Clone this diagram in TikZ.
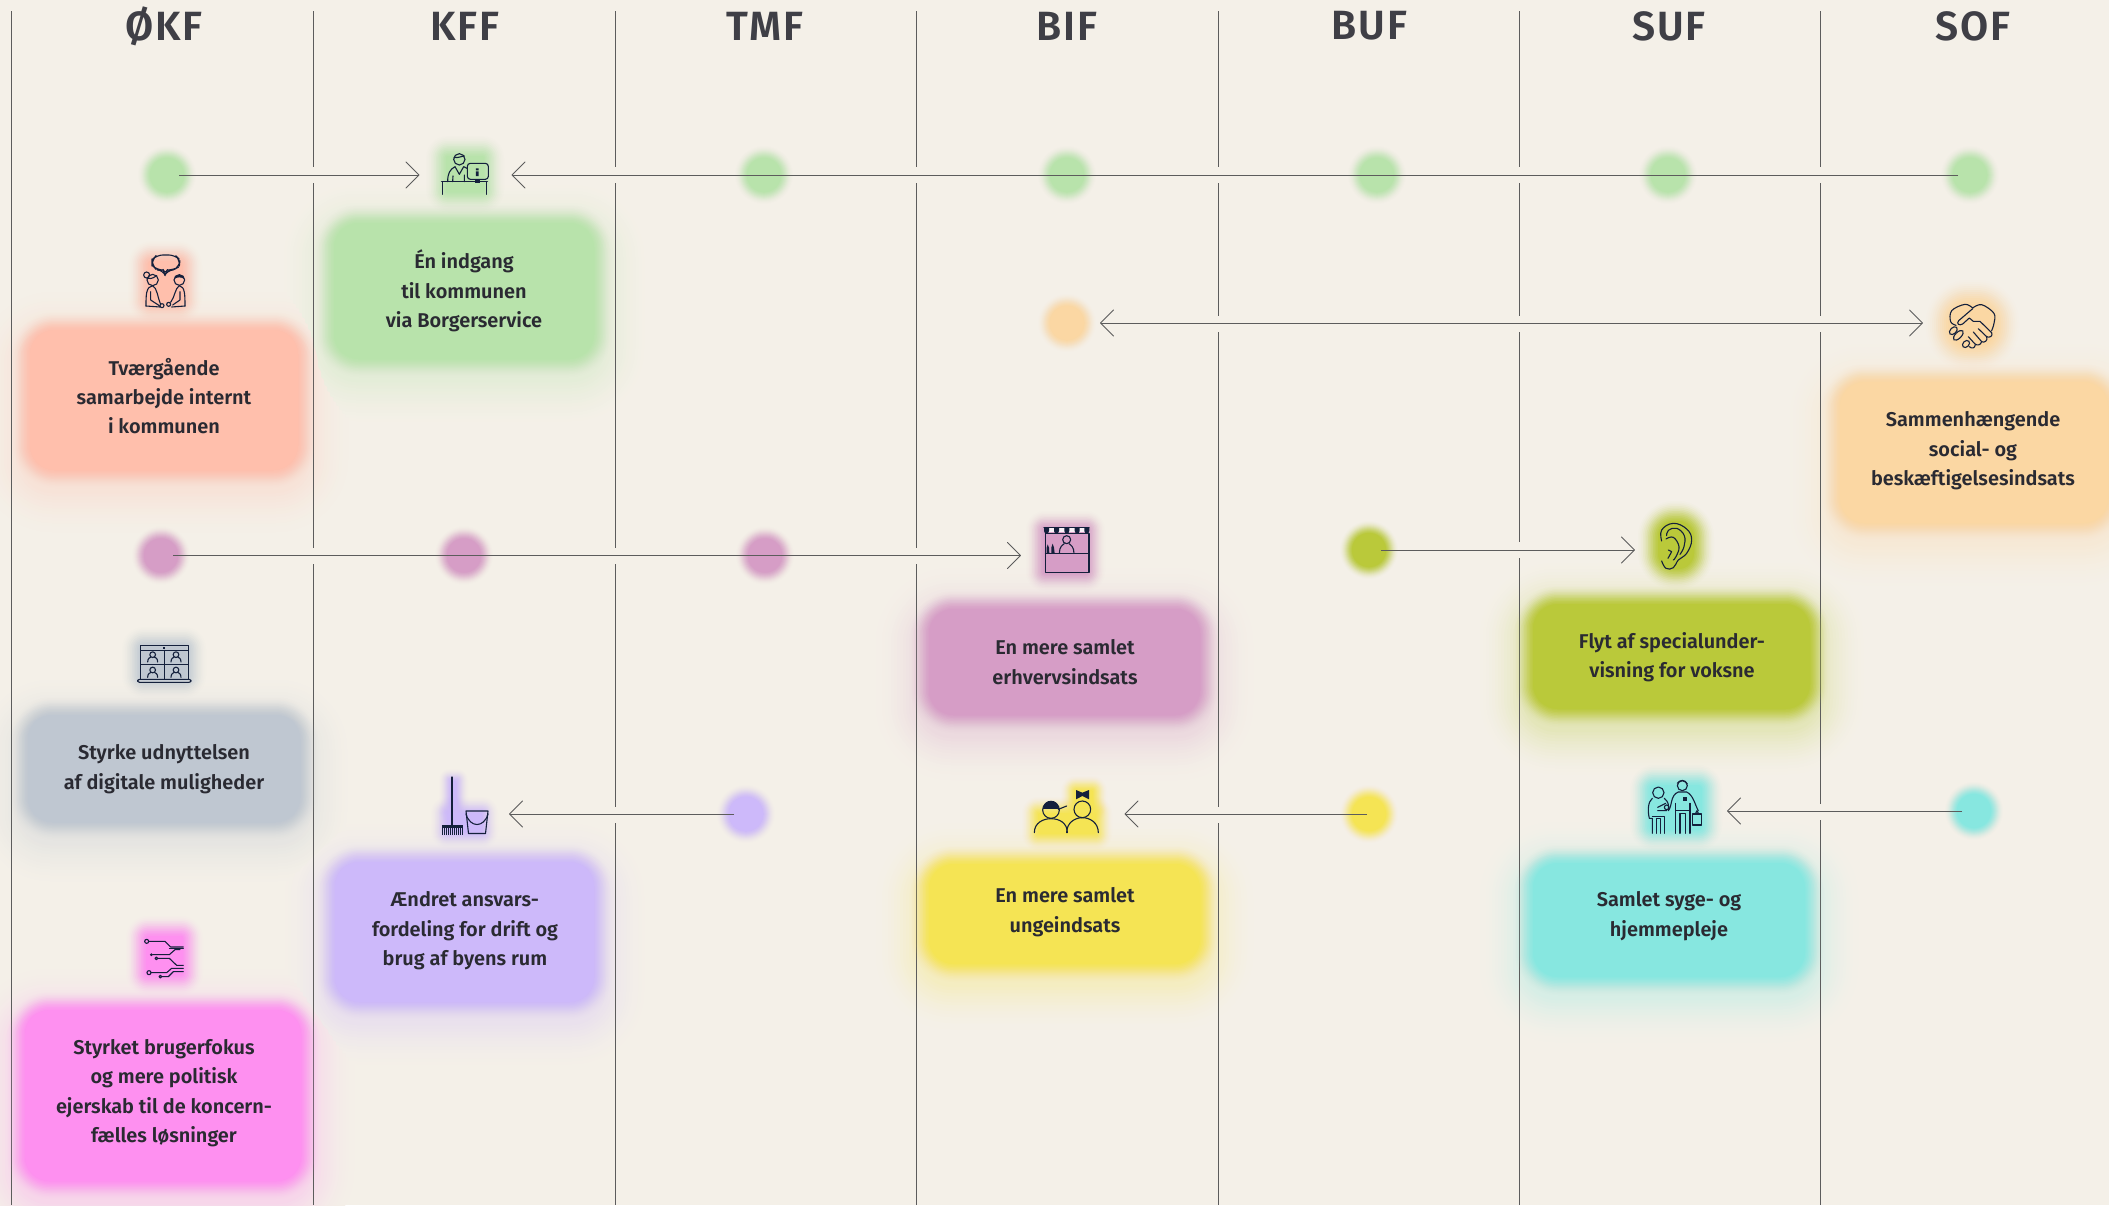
\documentclass[tikz,border=0pt]{standalone}
\usepackage{fontspec}
\setmainfont{Fira Sans}[UprightFont={* SemiBold}]
\newfontfamily\titlefont{Fira Sans}[UprightFont={* SemiBold},LetterSpace=5]
\usetikzlibrary{arrows.meta}
\definecolor{bgc}{HTML}{F4F0E8}
\definecolor{inkc}{HTML}{14203C}
\definecolor{txt}{HTML}{2A2A32}
\definecolor{linec}{HTML}{5C5C5C}
\definecolor{cGreen}{HTML}{B8E3AB}
\definecolor{cSalmon}{HTML}{FFBFAC}
\definecolor{cOrange}{HTML}{FBD7A3}
\definecolor{cMauve}{HTML}{D69DC6}
\definecolor{cOlive}{HTML}{BAC93A}
\definecolor{cGrey}{HTML}{BFC7D1}
\definecolor{cLilac}{HTML}{CDB9FA}
\definecolor{cYellow}{HTML}{F5E454}
\definecolor{cCyan}{HTML}{87E7E0}
\definecolor{cMagenta}{HTML}{FE90F0}
\tikzset{
  hub/.style={rectangle,inner sep=0pt,outer sep=0pt,minimum height=30bp},
  dotn/.style={circle,inner sep=0pt,outer sep=0pt,minimum size=66bp},
  title/.style={font=\titlefont\fontsize{41}{44}\selectfont,text=txt!90!white,inner sep=0pt},
  boxtext/.style={font=\fontsize{20}{29.5}\selectfont,text=txt,align=center,inner sep=0pt},
  vline/.style={draw=linec,line width=1bp},
  link/.style={draw=linec,line width=1bp,shorten <=12bp,-{Straight Barb[length=13bp,width=26bp,line width=.9bp,round]}},
  linkboth/.style={draw=linec,line width=1bp,{Straight Barb[length=13bp,width=26bp,line width=.9bp,round]}-{Straight Barb[length=13bp,width=26bp,line width=.9bp,round]}},
  ink/.style={draw=inkc,line width=1.1bp,line cap=round,line join=round},
  icon/.style={x=.3333bp,y=-.3333bp},
}
% soft rectangle: x0 y0 x1 y1 colour blur radius
\newcommand{\softshape}[7]{%
  \foreach \k/\a in {6/.02,5/.03,4/.05,3/.07,2/.09,1/.12,0/.15,-1/.18,-2/.22,-3/.28,-4/.35,-5/.45,-6/.6}{%
    \pgfmathsetmacro\dd{\k*#6/6}%
    \pgfmathsetmacro\rr{max(2,#7+\dd)}%
    \fill[#5,opacity=\a,rounded corners=\rr bp] ({#1-\dd},{#2-\dd}) rectangle ({#3+\dd},{#4+\dd});
  }%
  \pgfmathsetmacro\rr{max(2,#7-#6)}%
  \fill[#5,rounded corners=\rr bp] ({#1+#6},{#2+#6}) rectangle ({#3-#6},{#4-#6});
}
% one ring of a box's wide faint glow, at distance \d, in an opaque tint of the background
\newcommand{\glowring}[5]{%
  \fill[#5!\pp!bgc,rounded corners=\rr bp] ({#1-\d},{#2-\d+12}) rectangle ({#3+\d},{#4+\d+12});
}
\newcommand{\softbox}[5]{\softshape{#1-2}{#2-2}{#3+2}{#4+2}{#5}{9}{34}}
\newcommand{\softdot}[4]{%
  \foreach \k/\a in {6/.02,5/.03,4/.05,3/.07,2/.09,1/.12,0/.15,-1/.18,-2/.22,-3/.28,-4/.35,-5/.45,-6/.6}{%
    \pgfmathsetmacro\rr{23+\k}%
    \fill[#3,opacity=\a] (#1,#2) circle[radius=\rr];
  }%
  \fill[#3] (#1,#2) circle[radius=17];
  \node[dotn] (#4) at (#1,#2) {};
}
\begin{document}
\begin{tikzpicture}[x=1bp,y=-1bp]
\useasboundingbox (0,0) rectangle (2109,1205);
\fill[bgc] (0,0) rectangle (2109,1205);
% wide glows, ring by ring over all boxes
\foreach \d in {46,43,...,4}{
  \pgfmathsetmacro\rr{30+\d}
  \pgfmathsetmacro\pp{26*((46-\d)/42)^1.6+.6}
  \glowring{327}{216}{601}{366}{cGreen}
  \glowring{23}{323}{305}{477}{cSalmon}
  \glowring{1833}{375}{2115}{530}{cOrange}
  \glowring{922}{602}{1207}{722}{cMauve}
  \glowring{1526}{597}{1817}{716}{cOlive}
  \glowring{21}{708}{307}{829}{cGrey}
  \glowring{328}{855}{601}{1009}{cLilac}
  \glowring{922}{857}{1207}{971}{cYellow}
  \glowring{1526}{856}{1812}{984}{cCyan}
  \glowring{18}{1003}{308}{1188}{cMagenta}
}
% column rules with gaps where connectors cross
\draw[vline] (11.5,11) -- (11.5,1205);
\draw[vline] (313.5,11) -- (313.5,167) (313.5,183) -- (313.5,548) (313.5,564) -- (313.5,1205);
\draw[vline] (615,11) -- (615,167) (615,183) -- (615,548) (615,564) -- (615,807) (615,823) -- (615,1205);
\draw[vline] (916.5,11) -- (916.5,167) (916.5,183) -- (916.5,548) (916.5,564) -- (916.5,1205);
\draw[vline] (1218,11) -- (1218,167) (1218,183) -- (1218,316) (1218,332) -- (1218,807) (1218,823) -- (1218,1205);
\draw[vline] (1519,11) -- (1519,167) (1519,183) -- (1519,316) (1519,332) -- (1519,542) (1519,558) -- (1519,1205);
\draw[vline] (1820.5,11) -- (1820.5,167) (1820.5,183) -- (1820.5,316) (1820.5,332) -- (1820.5,804) (1820.5,820) -- (1820.5,1205);
% titles
\node[title] (tOKF) at (164,26) {ØKF};
\node[title] (tKFF) at (465,26) {KFF};
\node[title] (tTMF) at (765,26) {TMF};
\node[title] (tBIF) at (1067,26) {BIF};
\node[title] (tBUF) at (1369,26) {BUF};
\node[title] (tSUF) at (1669,26) {SUF};
\node[title] (tSOF) at (1973,26) {SOF};
% boxes
\softbox{327}{216}{601}{366}{cGreen}
\softbox{23}{323}{305}{477}{cSalmon}
\softbox{1833}{375}{2115}{530}{cOrange}
\softbox{922}{602}{1207}{722}{cMauve}
\softbox{1526}{597}{1817}{716}{cOlive}
\softbox{21}{708}{307}{829}{cGrey}
\softbox{328}{855}{601}{1009}{cLilac}
\softbox{922}{857}{1207}{971}{cYellow}
\softbox{1526}{856}{1812}{984}{cCyan}
\softbox{18}{1003}{308}{1188}{cMagenta}
% icon glows
\softshape{436}{146}{494}{202}{cGreen}{10}{12}
\softshape{138}{251}{192}{313}{cSalmon}{10}{14}
\softshape{132}{637}{196}{688}{cGrey}{10}{12}
\softshape{136}{926}{193}{985}{cMagenta}{10}{12}
\softshape{445}{775}{462}{815}{cLilac}{6}{5}
\softshape{439}{805}{490}{840}{cLilac}{8}{8}
\softshape{1035}{520}{1096}{582}{cMauve}{9}{10}
\softshape{1648}{511}{1704}{579}{cOlive}{10}{26}
\softshape{1068}{783}{1100}{815}{cYellow}{7}{8}
\softshape{1030}{805}{1104}{842}{cYellow}{8}{8}
\softshape{1640}{775}{1712}{840}{cCyan}{10}{14}
\softshape{1938}{292}{2007}{358}{cOrange}{12}{30}
% dots
\softdot{167}{175}{cGreen}{dG1}
\softdot{764}{175}{cGreen}{dG2}
\softdot{1067}{175}{cGreen}{dG3}
\softdot{1377}{175}{cGreen}{dG4}
\softdot{1668}{175}{cGreen}{dG5}
\softdot{1970}{175}{cGreen}{dG6}
\softdot{1067}{323}{cOrange}{dO}
\softdot{161}{555.5}{cMauve}{dM1}
\softdot{464}{555.5}{cMauve}{dM2}
\softdot{765}{555.5}{cMauve}{dM3}
\softdot{1369}{550}{cOlive}{dOl}
\softdot{746}{814}{cLilac}{dL}
\softdot{1369}{814}{cYellow}{dY}
\softdot{1974}{811}{cCyan}{dC}
% icon anchors
\node[hub,minimum width=92bp] (iKFF) at (465.5,175) {};
\node[hub,minimum width=92bp] (iBIF) at (1067,555.5) {};
\node[hub,minimum width=80bp] (iSUF) at (1675,550) {};
\node[hub,minimum width=88bp] (iKFFb) at (465,814) {};
\node[hub,minimum width=115bp] (iBIFb) at (1067,814) {};
\node[hub,minimum width=104bp] (iSUFb) at (1675,811) {};
\node[hub,minimum width=98bp] (iSOF) at (1972,323) {};
% connectors
\draw[link] (dG1.center) -- (iKFF.west);
\draw[link] (dG6.center) -- (iKFF.east);
\draw[linkboth] (dO.east) -- (iSOF.west);
\draw[link] (dM1.center) -- (iBIF.west);
\draw[link] (dOl.center) -- (iSUF.west);
\draw[link] (dL.center) -- (iKFFb.east);
\draw[link,shorten <=2bp] (dY.center) -- (iBIFb.east);
\draw[link] (dC.center) -- (iSUFb.east);
% box texts
\node[boxtext] (bGreen) at (464,291) {Én indgang\\til kommunen\\via Borgerservice};
\node[boxtext] (bSalmon) at (164,396) {Tværgående\\samarbejde internt\\i kommunen};
\node[boxtext] (bOrange) at (1973,451) {Sammenhængende\\social- og\\beskæftigelsesindsats};
\node[boxtext] (bMauve) at (1065,662) {En mere samlet\\erhvervsindsats};
\node[boxtext] (bOlive) at (1672,657) {Flyt af specialunder-\\visning for voksne};
\node[boxtext] (bGrey) at (164,769) {Styrke udnyttelsen\\af digitale muligheder};
\node[boxtext] (bLilac) at (465,931) {Ændret ansvars-\\fordeling for drift og\\brug af byens rum};
\node[boxtext] (bYellow) at (1065,912) {En mere samlet\\ungeindsats};
\node[boxtext] (bCyan) at (1669,916) {Samlet syge- og\\hjemmepleje};
\node[boxtext] (bMagenta) at (164,1093) {Styrket brugerfokus\\og mere politisk\\ejerskab til de koncern-\\fælles løsninger};
% --- icons (coordinates are zoom pixels, 1/3 px each)
% desk clerk
\begin{scope}[shift={(425,140)},icon]
\draw[ink] (103,58) circle[radius=17];
\draw[ink] (87,52) .. controls (100,55) and (110,48) .. (118,48);
\draw[ink] (68,125) .. controls (68,100) and (75,88) .. (90,80) -- (103,103) -- (116,80) -- (126,85);
\draw[ink] (83,125) -- (84,108) (118,125) -- (118,105);
\draw[ink,rounded corners=3bp] (127,70) rectangle (190,118);
\fill[inkc] (153,85) rectangle (161,91) (153,94) rectangle (161,108);
\fill[inkc] (150,118) rectangle (165,128);
\draw[ink,line width=1.5bp] (50,125) -- (187,125);
\draw[ink] (52,125) -- (52,163) (185,125) -- (185,163);
\end{scope}
% two people talking
\begin{scope}[shift={(130,245)},icon]
\draw[ink,rounded corners=6bp] (80,30) -- (135,30) -- (150,45) -- (148,65) -- (130,75) -- (112,75) -- (105,90) -- (100,75) -- (80,75) -- (66,60) -- (66,45) -- cycle;
\draw[ink] (68,105) circle[radius=17] (50,90) circle[radius=9];
\draw[ink] (55,100) .. controls (65,103) and (75,95) .. (80,92);
\draw[ink] (48,183) .. controls (48,150) and (48,125) .. (68,122) .. controls (82,130) and (82,155) .. (92,178);
\draw[ink] (62,140) -- (62,165) -- (88,182) (48,183) -- (90,186);
\draw[ink] (96,182) circle[radius=6];
\draw[ink] (148,105) circle[radius=16];
\fill[inkc] (132,103) .. controls (135,85) and (160,85) .. (164,103) .. controls (155,95) and (140,95) .. (132,103);
\draw[ink] (165,183) .. controls (165,150) and (165,125) .. (148,122) .. controls (135,130) and (135,155) .. (122,172);
\draw[ink] (150,140) -- (150,165) -- (128,180) (165,183) -- (125,186);
\draw[ink] (116,178) circle[radius=6];
\end{scope}
% laptop with video call
\begin{scope}[shift={(125,630)},icon]
\draw[ink] (47,148) -- (47,47) -- (190,47) -- (190,148);
\draw[ink] (47,61) -- (190,61) (47,103) -- (190,103) (118,61) -- (118,148);
\draw[ink,rounded corners=2bp] (38,148) rectangle (198,157);
\fill[inkc] (115,51) rectangle (120,56);
\foreach \px/\py in {83/74,153/74,83/120,153/120}{
  \draw[ink] (\px,\py) circle[radius=8.5];
  \draw[ink] (\px-15,\py+22) .. controls (\px-15,\py+10) and (\px-8,\py+9) .. (\px-5,\py+7);
  \draw[ink] (\px+15,\py+22) .. controls (\px+15,\py+10) and (\px+8,\py+9) .. (\px+5,\py+7);
}
\end{scope}
% circuit
\begin{scope}[shift={(130,925)},icon]
\draw[ink] (50,49) circle[radius=6];
\draw[ink] (56,49) -- (105,49) -- (122,66) -- (160,66);
\draw[ink] (118,71) -- (160,71);
\fill[inkc] (64,89) circle[radius=4.5];
\draw[ink] (68,89) -- (118,89) -- (135,74) -- (150,74);
\draw[ink] (79,100) circle[radius=4];
\draw[ink] (84,100) -- (118,100) -- (140,121) -- (160,121);
\draw[ink] (57,143) circle[radius=6];
\draw[ink] (63,143) -- (110,143) -- (125,130) -- (160,130);
\draw[ink] (160,140) -- (130,140) -- (115,155) -- (96,155);
\draw[ink] (91,155) circle[radius=4];
\end{scope}
% broom and bucket
\begin{scope}[x=1bp,y=-1bp]
\draw[ink,line width=1.2bp] (452,777) -- (452,826);
\fill[inkc] (441.5,825) rectangle (462.5,828);
\foreach \bx in {442.5,444.5,...,462.5}{\draw[inkc,line width=.8bp] (\bx,828) -- (\bx,834.5);}
\draw[ink] (466,811) -- (488,811) -- (485.5,833.5) -- (468.5,833.5) -- cycle;
\draw[ink] (466,814) .. controls (470,828) and (484,828) .. (488,814);
\end{scope}
% market stall
\begin{scope}[shift={(1030,515)},icon]
\draw[ink] (47,55) rectangle (177,172);
\fill[white!85!cMauve] (42,38) rectangle (177,50);
\foreach \ax in {42,72,103,134,163}{
  \fill[inkc] (\ax,38) -- (\ax+15,38) -- (\ax+15,48) .. controls (\ax+14,58) and (\ax+1,58) .. (\ax,48) -- cycle;
}
\draw[ink] (42,38) -- (177,38);
\draw[ink,line width=1.4bp] (47,115) -- (177,115);
\fill[inkc] (50,115) -- (50,98) -- (53,88) -- (57,98) -- (58,115) -- cycle;
\fill[inkc] (64,115) -- (64,98) -- (68,86) -- (72,98) -- (74,115) -- cycle;
\draw[ink] (110,74) circle[radius=12];
\draw[ink] (88,115) .. controls (88,95) and (98,90) .. (103,86);
\draw[ink] (132,115) .. controls (132,95) and (122,90) .. (117,86);
\end{scope}
% ear
\begin{scope}[shift={(1640,505)},icon]
\draw[ink] plot[smooth,tension=.7] coordinates {(65,108) (65,75) (100,55) (140,72) (155,105) (140,145) (115,165) (100,188) (78,190) (65,168)};
\draw[ink] plot[smooth,tension=.7] coordinates {(80,92) (85,76) (110,70) (133,92) (132,125) (120,148)};
\draw[ink] plot[smooth,tension=.7] coordinates {(78,102) (100,97) (117,125) (108,155) (100,165)};
\draw[ink] (85,135) -- (95,140) -- (84,160);
\end{scope}
% two youngsters
\begin{scope}[shift={(1025,780)},icon]
\draw[ink] (78,90) circle[radius=25];
\fill[inkc] (53,88) .. controls (53,55) and (103,55) .. (103,88) -- cycle;
\draw[ink] (100,88) -- (125,78);
\draw[ink] (28,158) .. controls (28,128) and (55,116) .. (78,116) .. controls (102,116) and (127,128) .. (127,158);
\draw[ink] (172,88) circle[radius=25];
\fill[inkc] (153,30) -- (172,38) -- (192,30) -- (192,58) -- (172,48) -- (153,58) -- cycle;
\draw[ink] (125,158) .. controls (125,128) and (150,113) .. (172,113) .. controls (195,113) and (220,128) .. (220,158);
\end{scope}
% carer and elderly person
\begin{scope}[shift={(1635,770)},icon]
\draw[ink] (70,68) circle[radius=17];
\draw[ink] (52,85) .. controls (38,95) and (38,125) .. (43,145) -- (52,145) -- (52,190);
\draw[ink] (88,85) .. controls (100,95) and (102,105) .. (100,120);
\draw[ink] (52,140) -- (88,140) -- (88,190) (65,190) -- (65,145) -- (76,145) -- (76,190);
\draw[ink] (68,112) -- (92,100) (68,122) -- (95,122);
\draw[ink] (95,112) circle[radius=7];
\draw[ink] (142,47) circle[radius=15];
\draw[ink] (127,40) .. controls (135,28) and (150,28) .. (157,42);
\draw[ink] (100,122) .. controls (112,110) and (105,75) .. (130,66) -- (155,66) .. controls (175,75) and (180,105) .. (190,122);
\draw[ink] (122,122) -- (165,122);
\draw[ink] (122,100) -- (122,190) (165,100) -- (165,190) (135,190) -- (135,130) -- (152,130) -- (152,190);
\fill[inkc] (143,80) rectangle (155,92);
\draw[ink] (172,132) -- (172,165) -- (200,165) -- (200,132) -- cycle;
\draw[ink] (181,132) -- (186,122) -- (191,132);
\end{scope}
% handshake
\begin{scope}[shift={(1850,280)},icon]
\draw[ink] plot[smooth,tension=.6] coordinates {(318,136) (302,125) (305,92) (345,73) (368,84)};
\draw[ink] plot[smooth,tension=.6] coordinates {(368,84) (395,74) (432,100) (432,130) (425,152)};
\draw[ink] (368,86) -- (326,122) .. controls (318,132) and (328,138) .. (338,132) -- (358,114) -- (370,124) -- (390,124) -- (425,158) .. controls (430,168) and (418,175) .. (410,170) -- (385,146);
\draw[ink] (410,170) .. controls (415,182) and (402,190) .. (395,185) -- (370,156);
\draw[ink] (395,185) .. controls (392,196) and (382,197) .. (375,192) -- (355,170);
\draw[ink,rotate around={45:(310,152)}] (310,152) ellipse[x radius=14,y radius=9];
\draw[ink,rotate around={45:(325,166)}] (325,166) ellipse[x radius=19,y radius=9];
\draw[ink,rotate around={45:(348,192)}] (348,192) ellipse[x radius=12,y radius=9];
\draw[ink] (358,200) .. controls (365,207) and (375,205) .. (376,194);
\end{scope}
\end{tikzpicture}
\end{document}
